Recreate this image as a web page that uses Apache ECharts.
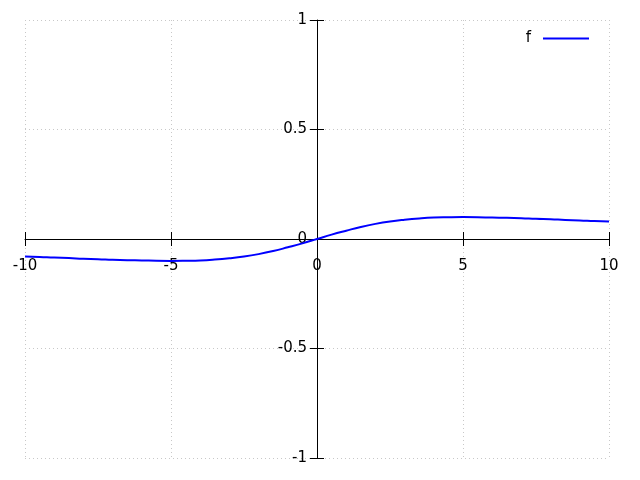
<!DOCTYPE html>
<html><head><meta charset="utf-8">
<script src="https://cdn.jsdelivr.net/npm/echarts@6/dist/echarts.min.js"></script>
<style>html,body{margin:0;padding:0;background:#fff}#c{width:640px;height:480px}</style>
</head><body><div id="c"></div>
<script>
const xValues = [-10,-9.5,-9,-8.5,-8,-7.5,-7,-6.5,-6,-5.5,-5,-4.5,-4,-3.5,-3,-2.5,-2,-1.5,-1,-0.5,0,0.5,1,1.5,2,2.5,3,3.5,4,4.5,5,5.5,6,6.5,7,7.5,8,8.5,9,9.5,10];
const fValues = [-0.080,-0.082,-0.085,-0.087,-0.090,-0.092,-0.095,-0.097,-0.098,-0.0995,-0.100,-0.0994,-0.098,-0.094,-0.088,-0.080,-0.069,-0.055,-0.038,-0.020,0,0.020,0.038,0.055,0.069,0.080,0.088,0.094,0.098,0.0994,0.100,0.0995,0.098,0.097,0.095,0.092,0.090,0.087,0.085,0.082,0.080];
const xTicks = [-10,-5,0,5,10];
const yTicks = [-1,-0.5,0,0.5,1];
const seriesName = 'f';

const font = 'DejaVu Sans';
const G = {left:25,right:31,top:20,bottom:22};
const W = 640 - G.left - G.right, H = 480 - G.top - G.bottom;
// distance from the grid's bottom / left edge to the data origin
const dy = H * (0 - yTicks[0]) / (yTicks[yTicks.length-1] - yTicks[0]);
const dx = W * (0 - xTicks[0]) / (xTicks[xTicks.length-1] - xTicks[0]);
const splitLine = {show:true,lineStyle:{type:[1,3],color:'#c8c8c8',width:1}};
const tick = {show:true,inside:false,length:7,lineStyle:{color:'#000',width:1}};
const xBase = {type:'value',min:xTicks[0],max:xTicks[xTicks.length-1],interval:5};
const yBase = {type:'value',min:yTicks[0],max:yTicks[yTicks.length-1],interval:0.5};
const chart = echarts.init(document.getElementById('c'),null,{renderer:'canvas'});
chart.setOption({
  animation:false,
  grid:Object.assign({containLabel:false,outerBoundsMode:'none'},G),
  legend:{data:[{name:seriesName,icon:'rect'}],right:51,top:31,padding:0,align:'right',itemWidth:46,itemHeight:2,itemGap:10,
    textStyle:{fontFamily:font,fontSize:15,color:'#000',padding:[0,7,0,0]}},
  xAxis:[
    Object.assign({},xBase,{position:'bottom',offset:-dy,
      axisLine:{show:true,onZero:false,lineStyle:{color:'#000',width:1}},axisTick:tick,
      axisLabel:{color:'#000',fontFamily:font,fontSize:15,margin:20},splitLine:splitLine}),
    Object.assign({},xBase,{position:'top',offset:-(H-dy),
      axisLine:{show:true,onZero:false,lineStyle:{color:'rgba(0,0,0,0)'}},axisTick:tick,
      axisLabel:{show:false},splitLine:{show:false}})
  ],
  yAxis:[
    Object.assign({},yBase,{position:'left',offset:-dx,
      axisLine:{show:true,onZero:false,lineStyle:{color:'#000',width:1}},axisTick:tick,
      axisLabel:{color:'#000',fontFamily:font,fontSize:15,margin:10},splitLine:splitLine}),
    Object.assign({},yBase,{position:'right',offset:-(W-dx),
      axisLine:{show:true,onZero:false,lineStyle:{color:'rgba(0,0,0,0)'}},axisTick:tick,
      axisLabel:{show:false},splitLine:{show:false}})
  ],
  series:[{name:seriesName,type:'line',xAxisIndex:0,yAxisIndex:0,showSymbol:false,symbol:'none',
    smooth:true,lineStyle:{color:'#0000ff',width:2},itemStyle:{color:'#0000ff'},
    data:xValues.map((x,i)=>[x,fValues[i]])},
    {type:'line',xAxisIndex:1,yAxisIndex:1,data:[],silent:true}]
});
</script></body></html>
